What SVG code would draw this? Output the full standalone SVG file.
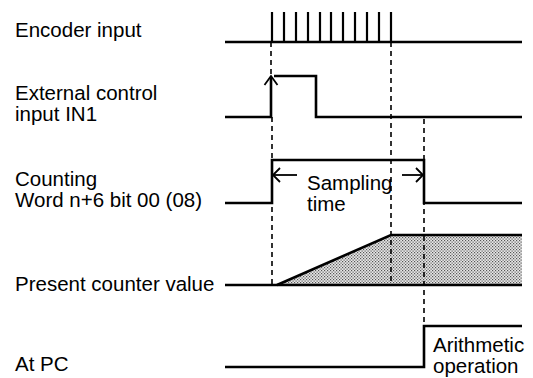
<svg xmlns="http://www.w3.org/2000/svg" width="533" height="378" viewBox="0 0 533 378">
<style>
text{font-family:"Liberation Sans",Arial,Helvetica,sans-serif;font-size:20.5px;fill:#000}
.sig{fill:none;stroke:#000;stroke-width:2.6;stroke-linejoin:miter;stroke-linecap:butt}
.pulse{stroke:#000;stroke-width:2.2}
.dash{fill:none;stroke:#000;stroke-width:1.6;stroke-dasharray:5 4}
.arr{fill:none;stroke:#000;stroke-width:1.8}
</style>
<defs>
<pattern id="stip" width="3" height="3" patternUnits="userSpaceOnUse">
<rect width="3" height="3" fill="#e8e8e8"/>
<rect x="0" y="0" width="1.2" height="1.2" fill="#555"/>
<rect x="1.5" y="1.5" width="1.2" height="1.2" fill="#555"/>
</pattern>
</defs>
<rect width="533" height="378" fill="#fff"/>

<g id="encoder">
<text x="15" y="37">Encoder input</text>
<line class="sig" x1="225" y1="42" x2="522" y2="42"/>
<g class="pulse">
<line x1="272" y1="12" x2="272" y2="42"/>
<line x1="284" y1="12" x2="284" y2="42"/>
<line x1="296" y1="12" x2="296" y2="42"/>
<line x1="308" y1="12" x2="308" y2="42"/>
<line x1="320" y1="12" x2="320" y2="42"/>
<line x1="331" y1="12" x2="331" y2="42"/>
<line x1="343" y1="12" x2="343" y2="42"/>
<line x1="355" y1="12" x2="355" y2="42"/>
<line x1="367" y1="12" x2="367" y2="42"/>
<line x1="379" y1="12" x2="379" y2="42"/>
<line x1="391" y1="12" x2="391" y2="42"/>
</g>
</g>

<g id="external">
<text x="15" y="100">External control</text>
<text x="15" y="121">input IN1</text>
<polyline class="sig" points="225,117 271,117 271,77"/>
<polyline class="sig" points="274,76 316,76 316,117 522,117"/>
</g>

<g id="counting">
<text x="15" y="186">Counting</text>
<text x="15" y="207">Word n+6 bit 00 (08)</text>
<polyline class="sig" points="225,203 272,203 272,160 424,160 424,203 522,203"/>
<text x="307" y="190">Sampling</text>
<text x="307" y="211">time</text>
</g>

<g id="counter">
<text x="15" y="291">Present counter value</text>
<polygon points="277,285 391,235 522,235 522,285" fill="url(#stip)"/>
<line class="sig" x1="225" y1="285" x2="522" y2="285"/>
<polyline class="sig" points="277,285 391,235 522,235"/>
</g>

<g id="atpc">
<text x="15" y="371">At PC</text>
<polyline class="sig" points="225,367 424,367 424,326 522,326"/>
<text x="433" y="352">Arithmetic</text>
<text x="433" y="373">operation</text>
</g>

<g id="connectors">
<line class="dash" x1="271" y1="42" x2="271" y2="76"/>
<line class="dash" x1="272" y1="117" x2="272" y2="285"/>
<line class="dash" x1="391" y1="42" x2="391" y2="285"/>
<line class="dash" x1="424" y1="119" x2="424" y2="326"/>
<polyline class="arr" points="264.5,85 271,76 277.5,85" stroke-width="2.6"/>
<line class="arr" x1="273" y1="175" x2="297" y2="175"/>
<polyline class="arr" points="280,168 273,175 280,182"/>
<line class="arr" x1="402" y1="175" x2="423" y2="175"/>
<polyline class="arr" points="416,168 423,175 416,182"/>
</g>
</svg>
